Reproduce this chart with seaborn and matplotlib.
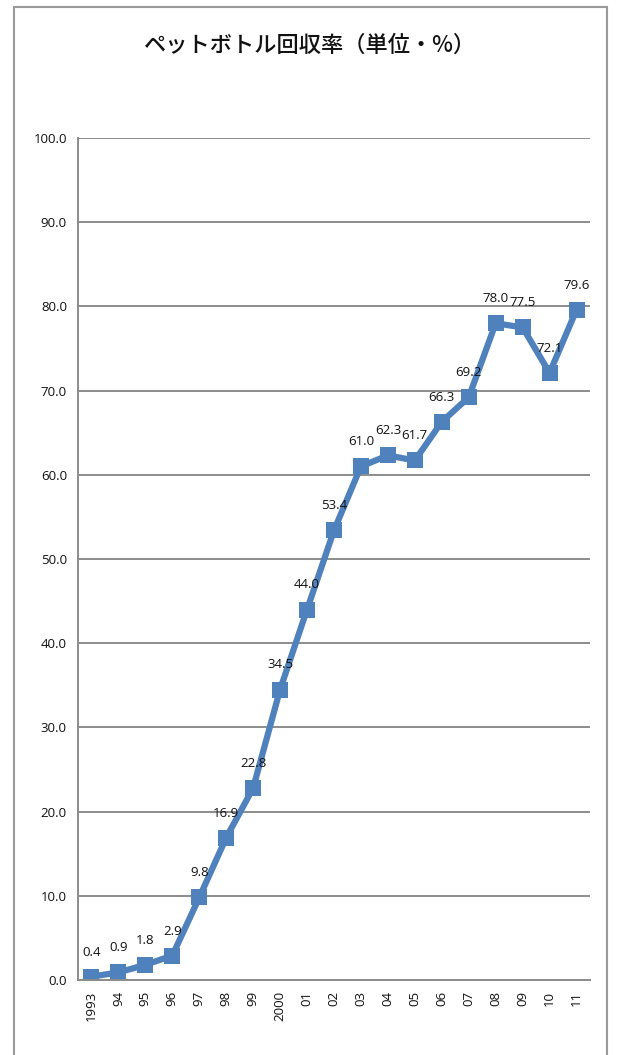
import matplotlib
matplotlib.use("Agg")
import matplotlib.pyplot as plt
import seaborn as sns
import pandas as pd
from matplotlib.patches import Rectangle

years = ["1993", "94", "95", "96", "97", "98", "99", "2000", "01", "02",
         "03", "04", "05", "06", "07", "08", "09", "10", "11"]
rates = [0.4, 0.9, 1.8, 2.9, 9.8, 16.9, 22.8, 34.5, 44.0, 53.4,
         61.0, 62.3, 61.7, 66.3, 69.2, 78.0, 77.5, 72.1, 79.6]
yticks = [0, 10, 20, 30, 40, 50, 60, 70, 80, 90, 100]
title = "ペットボトル回収率（単位・%）"

sns.set_theme(style="white")
plt.rcParams["font.family"] = ["Noto Sans CJK JP", "DejaVu Sans"]
num_font = ["Open Sans", "DejaVu Sans"]

df = pd.DataFrame({"pos": range(len(years)), "rate": rates})

W, H = 617, 1055
fig = plt.figure(figsize=(W / 100, H / 100), dpi=100)
ax = fig.add_axes([78 / W, 1 - 980 / H, (590 - 78) / W, (980 - 138) / H])

line_color = "#4F81BD"
sns.lineplot(data=df, x="pos", y="rate", ax=ax, color=line_color,
             linewidth=4.5, marker="s", markersize=11.5, markeredgewidth=0,
             sort=False)

ax.set_xlim(-0.5, len(years) - 0.5)
ax.set_ylim(0, 100)
ax.set_yticks(yticks)
ax.set_yticklabels([f"{v:.1f}" for v in yticks], fontsize=9.5,
                   color="#111111", family=num_font)
ax.set_xticks(range(len(years)))
ax.set_xticklabels(years, rotation=90, fontsize=9.5, color="#111111",
                   family=num_font)
ax.tick_params(axis="both", length=0, pad=8)
ax.set_xlabel("")
ax.set_ylabel("")

ax.grid(axis="y", color="#8c8c8c", linewidth=1.4)
ax.set_axisbelow(True)
for side in ["top", "right"]:
    ax.spines[side].set_visible(False)
for side in ["left", "bottom"]:
    ax.spines[side].set_color("#8c8c8c")
    ax.spines[side].set_linewidth(1.4)

for i, v in enumerate(rates):
    ax.annotate(f"{v:.1f}", (i, v), xytext=(0, 13), textcoords="offset points",
                ha="center", va="bottom", fontsize=9.5, color="#111111",
                family=num_font)

fig.text(310 / W, 1 - 45 / H, title, ha="center", va="center", fontsize=16,
         fontweight="medium", color="#111111")

fig.patches.append(Rectangle((14 / W, -0.02), (607 - 14) / W, 1.02 - 7 / H,
                             transform=fig.transFigure, fill=False,
                             edgecolor="#9a9a9a", linewidth=1.5))

fig.savefig("out.png", dpi=100)
